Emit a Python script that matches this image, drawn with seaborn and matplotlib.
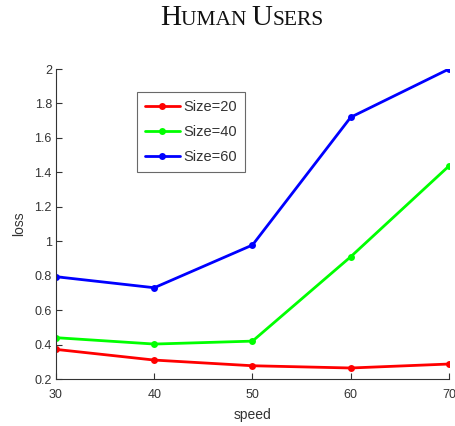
import pandas as pd
import matplotlib
matplotlib.use('Agg')
import matplotlib.pyplot as plt
import seaborn as sns

# data
speed = [30, 40, 50, 60, 70]
loss_20 = [0.372, 0.310, 0.277, 0.264, 0.287]
loss_40 = [0.440, 0.403, 0.420, 0.910, 1.437]
loss_60 = [0.794, 0.730, 0.978, 1.720, 2.000]
sizes = ['Size=20', 'Size=40', 'Size=60']
colors = ['#ff0000', '#00ff00', '#0000ff']

df = pd.concat([
    pd.DataFrame({'speed': speed, 'loss': vals, 'size': name})
    for name, vals in zip(sizes, [loss_20, loss_40, loss_60])
])

sns.set_style('ticks')
plt.rcParams['font.family'] = ['Liberation Sans', 'DejaVu Sans']

fig = plt.figure(figsize=(4.56, 4.26), dpi=100)
ax = fig.add_axes([0.1228, 0.1103, 0.8618, 0.7277])

sns.lineplot(data=df, x='speed', y='loss', hue='size', palette=colors,
             marker='o', markersize=5, markeredgewidth=0, linewidth=2,
             ax=ax)

ax.set_xlim(30, 70)
ax.set_ylim(0.2, 2.0)
ax.set_xticks([30, 40, 50, 60, 70])
ax.set_yticks([0.2, 0.4, 0.6, 0.8, 1.0, 1.2, 1.4, 1.6, 1.8, 2.0])
ax.set_yticklabels(['0.2', '0.4', '0.6', '0.8', '1', '1.2', '1.4', '1.6', '1.8', '2'])
ax.tick_params(direction='in', length=4, width=0.8, labelsize=9,
               colors='#333333')
ax.tick_params(axis='x', pad=7)
ax.tick_params(axis='y', pad=3)
for s in ['top', 'right']:
    ax.spines[s].set_visible(False)
for s in ['left', 'bottom']:
    ax.spines[s].set_color('#333333')
    ax.spines[s].set_linewidth(0.8)

ax.set_xlabel('speed', fontsize=10, color='#333333', labelpad=5)
ax.set_ylabel('loss', fontsize=10, color='#333333', labelpad=6)

leg = ax.legend(loc='upper left', bbox_to_anchor=(0.206, 0.926), fontsize=10.5,
                frameon=True, fancybox=False, handlelength=2.4,
                handletextpad=0.25, borderpad=0.55, labelspacing=0.75,
                borderaxespad=0)
leg.get_frame().set_edgecolor('#444444')
leg.get_frame().set_linewidth(0.8)
for t in leg.get_texts():
    t.set_color('#333333')

# small caps title built from pieces
pieces = [('H', 21), ('UMAN ', 15.5), ('U', 21), ('SERS', 15.5)]
fig.canvas.draw()
renderer = fig.canvas.get_renderer()
texts = []
widths = []
for txt, size in pieces:
    t = fig.text(0, 0, txt, fontsize=size, family='Liberation Serif',
                 color='#111111', va='baseline', ha='left')
    texts.append(t)
    widths.append(t.get_window_extent(renderer).width)
total = sum(widths)
x0 = 242 - total / 2
baseline = 426 - 25
for t, w in zip(texts, widths):
    t.set_position((x0 / 456, baseline / 426))
    x0 += w

fig.savefig('out.png', dpi=100)
